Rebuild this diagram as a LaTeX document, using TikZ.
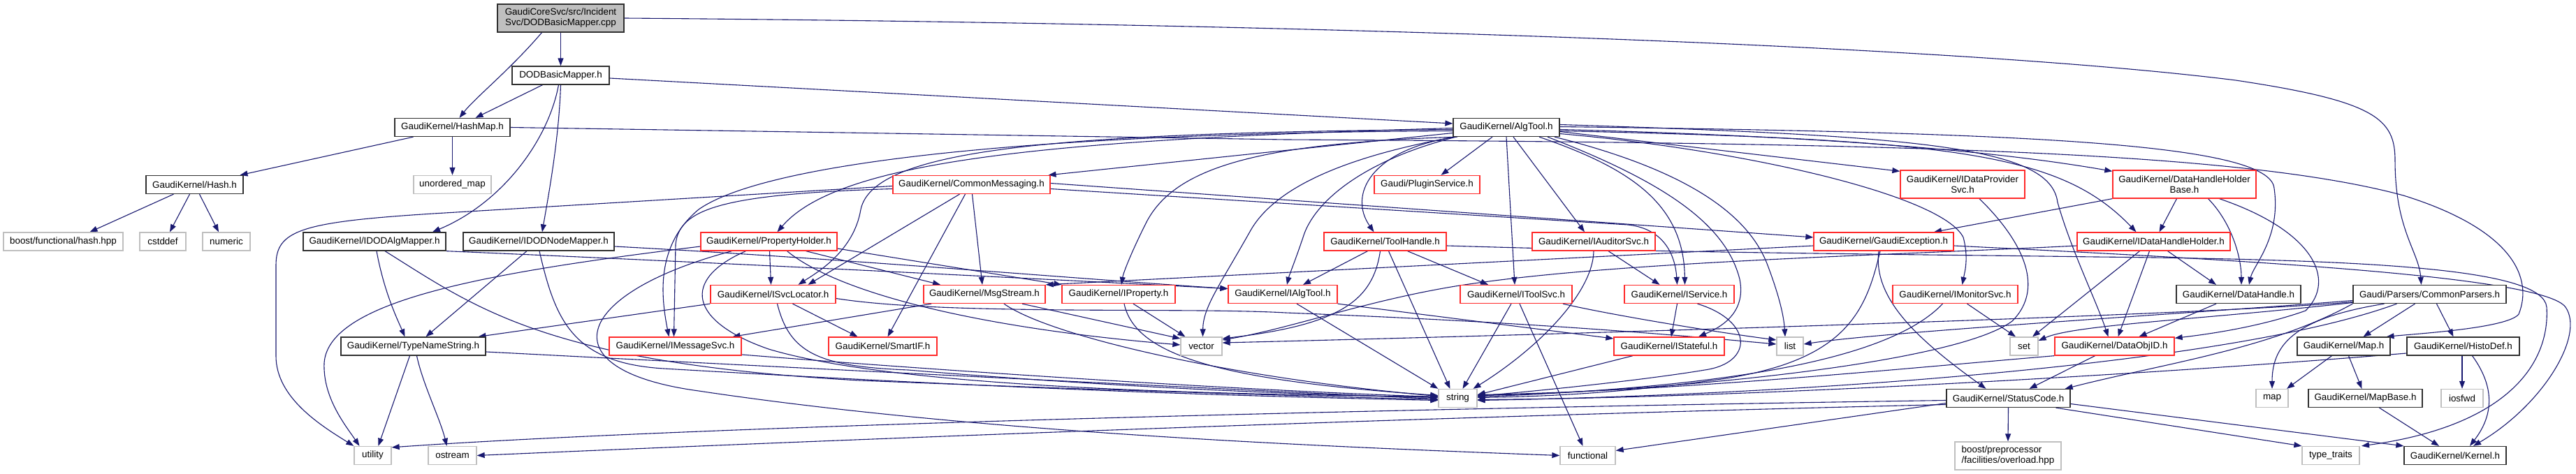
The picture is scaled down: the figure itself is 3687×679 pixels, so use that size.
\documentclass[tikz,border=0pt]{standalone}
\usepackage{fontspec}
\setmainfont{Liberation Sans}
\usetikzlibrary{arrows.meta}
\definecolor{edgec}{HTML}{191970}
\definecolor{redb}{HTML}{FF2A2A}
\definecolor{grayb}{HTML}{BFBFBF}
\definecolor{blkb}{HTML}{303030}
\newcommand\dxf{\fontsize{13.4}{15}\selectfont}
\pgfdeclarelayer{edges}
\pgfsetlayers{edges,main}
\tikzset{
  nb/.style={draw, line width=1.3pt, fill=white, inner sep=0pt, font=\dxf, text=black, minimum height=26pt},
  blk/.style={nb, draw=blkb},
  rd/.style={nb, draw=redb},
  gr/.style={nb, draw=grayb},
  e/.style={draw=edgec, line width=1.1pt, -{Triangle[length=11pt,width=8pt]}},
}
\begin{document}
\begin{tikzpicture}[x=1pt,y=-1pt]
\useasboundingbox (0,0) rectangle (3687,679);
% row 0-1
\node[blk, fill=grayb, minimum width=181pt, minimum height=40pt, align=center] (cpp) at (802.5,26) {GaudiCoreSvc/src/Incident\\Svc/DODBasicMapper.cpp};
\node[blk, minimum width=139pt] (dbm) at (802.5,108) {DODBasicMapper.h};
% row 2
\node[blk, minimum width=165pt] (hashmap) at (647.5,182.5) {GaudiKernel/HashMap.h};
\node[blk, minimum width=152pt] (algtool) at (2156,182.5) {GaudiKernel/AlgTool.h};
% row 3
\node[blk, minimum width=139pt] (hash) at (278.5,264.5) {GaudiKernel/Hash.h};
\node[gr, minimum width=111pt] (umap) at (647.5,264.5) {unordered\_map};
\node[rd, minimum width=225pt] (cmsg) at (1390.5,264.5) {GaudiKernel/CommonMessaging.h};
\node[rd, minimum width=151pt] (plugin) at (2042.5,264.5) {Gaudi/PluginService.h};
\node[rd, minimum width=178pt, minimum height=40pt, align=center] (idps) at (2809,264) {GaudiKernel/IDataProvider\\Svc.h};
\node[rd, minimum width=205pt, minimum height=40pt, align=center] (dhhb) at (3126.5,264) {GaudiKernel/DataHandleHolder\\Base.h};
% row 4
\node[gr, minimum width=171pt] (bfh) at (90.5,346) {boost/functional/hash.hpp};
\node[gr, minimum width=66pt] (cstddef) at (233,346) {cstddef};
\node[gr, minimum width=68pt] (numeric) at (324,346) {numeric};
\node[blk, minimum width=204pt] (idodalg) at (536,346) {GaudiKernel/IDODAlgMapper.h};
\node[blk, minimum width=216pt] (idodnode) at (771,346) {GaudiKernel/IDODNodeMapper.h};
\node[rd, minimum width=195pt] (propholder) at (1100.5,346) {GaudiKernel/PropertyHolder.h};
\node[rd, minimum width=175pt] (toolhandle) at (1982.5,346) {GaudiKernel/ToolHandle.h};
\node[rd, minimum width=176pt] (iauditor) at (2281,346) {GaudiKernel/IAuditorSvc.h};
\node[rd, minimum width=200pt] (gexc) at (2696,346) {GaudiKernel/GaudiException.h};
\node[rd, minimum width=219pt] (idhh) at (3082.5,346) {GaudiKernel/IDataHandleHolder.h};
% row 5
\node[rd, minimum width=179pt] (isvcloc) at (1106.5,421.5) {GaudiKernel/ISvcLocator.h};
\node[rd, minimum width=174pt] (msgstream) at (1409,421.5) {GaudiKernel/MsgStream.h};
\node[rd, minimum width=162pt] (iprop) at (1601,421.5) {GaudiKernel/IProperty.h};
\node[rd, minimum width=156pt] (ialgtool) at (1836,421.5) {GaudiKernel/IAlgTool.h};
\node[rd, minimum width=160pt] (itoolsvc) at (2170,421.5) {GaudiKernel/IToolSvc.h};
\node[rd, minimum width=157pt] (iservice) at (2403.5,421.5) {GaudiKernel/IService.h};
\node[rd, minimum width=179pt] (imonitor) at (2798.5,421.5) {GaudiKernel/IMonitorSvc.h};
\node[blk, minimum width=178pt] (datahandle) at (3204,421.5) {GaudiKernel/DataHandle.h};
\node[blk, minimum width=219pt] (cparsers) at (3477.5,421.5) {Gaudi/Parsers/CommonParsers.h};
% row 6
\node[blk, minimum width=207pt] (typename) at (591.5,496) {GaudiKernel/TypeNameString.h};
\node[rd, minimum width=189pt] (imsgsvc) at (966.5,496) {GaudiKernel/IMessageSvc.h};
\node[rd, minimum width=155pt] (smartif) at (1263.5,496) {GaudiKernel/SmartIF.h};
\node[gr, minimum width=59pt] (vector) at (1719.5,496) {vector};
\node[rd, minimum width=158pt] (istateful) at (2389,496) {GaudiKernel/IStateful.h};
\node[gr, minimum width=38pt] (list) at (2562,496) {list};
\node[gr, minimum width=40pt] (set) at (2897,496) {set};
\node[rd, minimum width=171pt] (dataobjid) at (3026.5,496) {GaudiKernel/DataObjID.h};
\node[blk, minimum width=133pt] (maph) at (3354.5,496) {GaudiKernel/Map.h};
\node[blk, minimum width=161pt] (histodef) at (3525.5,496) {GaudiKernel/HistoDef.h};
% row 7
\node[gr, minimum width=55pt] (string) at (2086.5,570.5) {string};
\node[blk, minimum width=177pt] (statuscode) at (2874.5,570.5) {GaudiKernel/StatusCode.h};
\node[gr, minimum width=46pt] (map) at (3252,570.5) {map};
\node[blk, minimum width=163pt] (mapbase) at (3385.5,570.5) {GaudiKernel/MapBase.h};
\node[gr, minimum width=60pt] (iosfwd) at (3524,570.5) {iosfwd};
% row 8
\node[gr, minimum width=53pt] (utility) at (533.5,652.5) {utility};
\node[gr, minimum width=69pt] (ostream) at (647.5,652.5) {ostream};
\node[gr, minimum width=79pt] (functional) at (2272.5,652.5) {functional};
\node[gr, minimum width=152pt, minimum height=40pt, align=left] (bpo) at (2874,653) {boost/preprocessor\\/facilities/overload.hpp};
\node[gr, minimum width=82pt] (typetraits) at (3336,652.5) {type\_traits};
\node[blk, minimum width=146pt] (kernel) at (3514,652.5) {GaudiKernel/Kernel.h};

\begin{pgfonlayer}{edges}
\fill[white] (0,0) rectangle (3687,679);
% cpp
\draw[e] ([xshift=-27pt]cpp.south) .. controls (730,100) and (680,140) .. ([xshift=10pt]hashmap.north);
\draw[e] (cpp.south) -- (dbm.north);
\draw[e] (cpp.east) .. controls (1900,34) and (2800,65) .. (3200,115) .. controls (3400,145) and (3428,170) .. (3428,230) .. controls (3428,330) and (3462,360) .. ([xshift=-12pt]cparsers.north);
% dbm
\draw[e] ([xshift=-26pt]dbm.south) -- ([xshift=33pt]hashmap.north);
\draw[e] ([yshift=-4pt]dbm.east) -- ([yshift=5.5pt]algtool.west);
\draw[e] ([xshift=-3pt]dbm.south) .. controls (785,200) and (720,290) .. ([xshift=83pt]idodalg.north);
\draw[e] (dbm.south) .. controls (800,200) and (785,280) .. ([xshift=5pt]idodnode.north);
% hashmap, hash
\draw[e] ([xshift=-56pt]hashmap.south) -- ([xshift=65pt]hash.north);
\draw[e] (hashmap.south) -- (umap.north);
\draw[e] (hashmap.east) -- (1840,200) .. controls (2700,205) and (3200,215) .. (3440,280) .. controls (3600,330) and (3625,400) .. (3605,450) .. controls (3590,470) and (3460,478) .. ([xshift=61pt]maph.north);
\draw[e] ([xshift=-30pt]hash.south) -- ([xshift=38pt]bfh.north);
\draw[e] ([xshift=-7pt]hash.south) -- ([xshift=10pt]cstddef.north);
\draw[e] ([xshift=7pt]hash.south) -- ([xshift=-11pt]numeric.north);
% algtool
\draw[e] ([yshift=-8pt]algtool.west) -- ([xshift=110pt]cmsg.north);
\draw[e] ([xshift=-20pt]algtool.south) -- ([xshift=20pt]plugin.north);
\draw[e] ([yshift=-6pt]algtool.east) -- ([yshift=-2pt]idps.north west);
\draw[e] ([yshift=-3pt]algtool.east) .. controls (2600,195) and (2850,215) .. ([yshift=-2pt]dhhb.north west);
\draw[e] ([yshift=-1pt]algtool.west) .. controls (1500,200) and (1200,230) .. ([xshift=12pt]propholder.north);
\draw[e] ([xshift=-73pt]algtool.south) .. controls (1960,215) and (1930,280) .. ([xshift=-16pt]toolhandle.north);
\draw[e] ([xshift=10pt]algtool.south) -- ([xshift=-13pt]iauditor.north);
\draw[e] ([yshift=-3pt]algtool.west) .. controls (1500,190) and (1250,215) .. (1232,300) .. controls (1222,360) and (1170,390) .. ([xshift=36pt]isvcloc.north);
\draw[e] ([yshift=-5pt]algtool.west) .. controls (1500,190) and (1100,230) .. (1000,300) .. controls (940,350) and (945,420) .. ([xshift=-9pt]imsgsvc.north);
\draw[e] ([xshift=-70pt]algtool.south) .. controls (1800,205) and (1680,240) .. (1640,320) .. controls (1620,360) and (1608,390) .. ([xshift=4pt]iprop.north);
\draw[e] ([xshift=-72pt]algtool.south) .. controls (1950,230) and (1880,290) .. (1865,340) .. controls (1855,370) and (1845,395) .. ([xshift=6pt]ialgtool.north);
\draw[e] ([xshift=-74pt]algtool.south) .. controls (1950,220) and (1830,260) .. (1790,330) .. controls (1745,410) and (1722,440) .. ([xshift=2pt]vector.north);
\draw[e] (algtool.south) -- ([xshift=-2pt]itoolsvc.north);
\draw[e] ([xshift=47pt]algtool.south) .. controls (2330,240) and (2410,290) .. ([xshift=8pt]iservice.north);
\draw[e] ([yshift=-9pt]algtool.east) .. controls (2500,215) and (2780,280) .. (2810,340) .. controls (2818,370) and (2812,390) .. ([xshift=10pt]imonitor.north);
\draw[e] ([yshift=-5pt]algtool.east) .. controls (2800,200) and (2950,220) .. ([xshift=-25pt]idhh.north);
\draw[e] ([yshift=1pt]algtool.east) .. controls (2900,190) and (3250,205) .. (3255,270) .. controls (3265,340) and (3225,380) .. ([xshift=15pt]datahandle.north);
\draw[e] ([yshift=4pt]algtool.east) .. controls (2750,195) and (2935,210) .. (2945,290) .. controls (2965,360) and (3000,430) .. ([xshift=-9pt]dataobjid.north);
\draw[e] ([xshift=69pt]algtool.south) .. controls (2400,240) and (2500,300) .. (2530,380) .. controls (2545,420) and (2553,450) .. ([xshift=-7pt]list.north);
\draw[e] ([xshift=59pt]algtool.south) .. controls (2380,260) and (2470,320) .. (2490,400) .. controls (2500,450) and (2460,470) .. ([xshift=42pt]istateful.north);
% cmsg
\draw[e] ([yshift=-6pt]cmsg.east) -- (2330,322) .. controls (2385,328) and (2398,370) .. ([xshift=-3pt]iservice.north);
\draw[e] ([yshift=2pt]cmsg.east) -- ([yshift=6pt]gexc.west);
\draw[e] ([xshift=-17pt]cmsg.south) -- ([xshift=50pt]isvcloc.north);
\draw[e] ([xshift=-9pt]cmsg.south) -- ([xshift=7pt]smartif.north);
\draw[e] ([xshift=1pt]cmsg.south) -- ([xshift=-3pt]msgstream.north);
\draw[e] ([yshift=-6pt]cmsg.west) .. controls (1030,278) and (972,300) .. (967,350) -- ([xshift=-2pt]imsgsvc.north);
\draw[e] ([yshift=-2pt]cmsg.west) -- (620,306) .. controls (430,318) and (395,330) .. (395,380) -- (395,510) .. controls (395,570) and (460,610) .. (utility.north west);
% propholder
\draw[e] ([xshift=1pt]propholder.south) -- ([xshift=-3pt]isvcloc.north);
\draw[e] ([xshift=53pt]propholder.south) -- ([xshift=-63pt]msgstream.north);
\draw[e] ([yshift=-10pt]propholder.east) -- (iprop.north west);
\draw[e] ([yshift=-7pt]propholder.west) .. controls (700,390) and (470,430) .. (464,520) .. controls (462,570) and (495,610) .. ([xshift=-19pt]utility.north);
\draw[e] ([xshift=-53pt]propholder.south) .. controls (820,420) and (780,530) .. (1000,560) .. controls (1400,620) and (1900,640) .. (functional.west);
\draw[e] ([xshift=-33pt]propholder.south) .. controls (975,400) and (985,460) .. (1100,500) .. controls (1300,560) and (1800,565) .. ([yshift=2pt]string.west);
\draw[e] ([xshift=26pt]propholder.south) .. controls (1200,420) and (1400,470) .. ([yshift=2pt]vector.west);
% msgstream, iprop
\draw[e] ([xshift=54pt]msgstream.south) -- ([yshift=11pt]vector.west);
\draw[e] ([xshift=28pt]msgstream.south) .. controls (1500,480) and (1750,540) .. ([yshift=3pt]string.west);
\draw[e] ([xshift=-76pt]msgstream.south) -- ([xshift=82pt]imsgsvc.north);
\draw[e] ([xshift=21pt]iprop.south) -- ([xshift=-23pt]vector.north);
\draw[e] ([xshift=8pt]iprop.south) .. controls (1625,510) and (1750,545) .. ([yshift=4pt]string.west);
% isvcloc
\draw[e] (isvcloc.south west) -- ([xshift=93pt]typename.north);
\draw[e] ([xshift=28pt]isvcloc.south) -- ([xshift=-36pt]smartif.north);
\draw[e] ([xshift=6pt]isvcloc.south) .. controls (1130,505) and (1170,525) .. (1300,530) .. controls (1600,555) and (1850,565) .. ([yshift=1pt]string.west);
\draw[e] ([yshift=-6pt]isvcloc.east) .. controls (1350,452) and (1700,440) .. (1840,448) .. controls (2200,462) and (2400,480) .. ([yshift=3pt]list.west);
% itoolsvc, toolhandle
\draw[e] ([xshift=67pt]itoolsvc.south) .. controls (2300,450) and (2450,475) .. ([yshift=9pt]list.west);
\draw[e] ([xshift=-7pt]itoolsvc.south) -- ([xshift=7pt]string.north);
\draw[e] ([xshift=5pt]itoolsvc.south) -- ([xshift=-7pt]functional.north);
\draw[e] ([xshift=-25pt]toolhandle.south) -- ([xshift=29pt]ialgtool.north);
\draw[e] ([xshift=32pt]toolhandle.south) -- ([xshift=-40pt]itoolsvc.north);
\draw[e] ([xshift=5pt]toolhandle.south) -- ([xshift=-11pt]string.north);
\draw[e] ([xshift=-7pt]toolhandle.south) .. controls (1965,430) and (1920,465) .. ([yshift=11pt]vector.east);
\draw[e] ([yshift=-6pt]toolhandle.east) .. controls (2400,362) and (2700,364) .. (3000,368) .. controls (3400,372) and (3640,385) .. (3645,440) .. controls (3650,520) and (3590,610) .. ([xshift=44pt]typetraits.north);
% gexc
\draw[e] ([yshift=-6pt]gexc.east) .. controls (3200,372) and (3640,395) .. (3672,440) .. controls (3700,480) and (3640,580) .. ([xshift=26pt]kernel.north);
\draw[e] ([yshift=-6pt]gexc.west) -- (msgstream.north east);
\draw[e] ([xshift=-5pt]gexc.south) .. controls (2670,450) and (2640,520) .. (2450,545) .. controls (2300,565) and (2200,568) .. ([yshift=1pt]string.east);
\draw[e] ([xshift=-7pt]gexc.south) .. controls (2680,430) and (2750,490) .. ([xshift=-32pt]statuscode.north);
% imonitor, iauditor, iservice, ialgtool, istateful
\draw[e] ([xshift=17pt]imonitor.south) -- ([xshift=-12pt]set.north);
\draw[e] ([xshift=-18pt]imonitor.south) .. controls (2700,520) and (2450,555) .. ([yshift=2pt]string.east);
\draw[e] ([xshift=21pt]iauditor.south) -- ([xshift=-28pt]iservice.north);
\draw[e] (iauditor.south) .. controls (2280,420) and (2200,500) .. ([xshift=22pt]string.north);
\draw[e] ([xshift=-3pt]iservice.south) -- ([xshift=3pt]istateful.north);
\draw[e] ([xshift=26pt]iservice.south) .. controls (2510,460) and (2510,520) .. (2440,530) .. controls (2350,545) and (2200,560) .. ([yshift=3pt]string.east);
\draw[e] ([xshift=20pt]ialgtool.south) -- (string.north west);
\draw[e] (ialgtool.south east) -- ([yshift=11pt]istateful.west);
\draw[e] ([xshift=-52pt]istateful.south) -- ([yshift=5pt]string.east);
% idps, dhhb, idhh, datahandle
\draw[e] ([xshift=24pt]idps.south) .. controls (2890,340) and (2930,410) .. (2880,460) .. controls (2800,520) and (2400,560) .. ([yshift=4pt]string.east);
\draw[e] ([xshift=34pt]dhhb.south) .. controls (3195,320) and (3208,370) .. ([xshift=4pt]datahandle.north);
\draw[e] ([xshift=-11pt]dhhb.south) -- ([xshift=8pt]idhh.north);
\draw[e] (dhhb.south west) -- ([xshift=72pt]gexc.north);
\draw[e] ([xshift=50pt]dhhb.south) .. controls (3310,330) and (3345,400) .. (3300,445) .. controls (3230,470) and (3150,480) .. ([yshift=-2pt]dataobjid.north east);
\draw[e] ([xshift=20pt]idhh.south) -- ([xshift=-32pt]datahandle.north);
\draw[e] ([xshift=-6pt]idhh.south) -- ([xshift=5pt]dataobjid.north);
\draw[e] ([xshift=-20pt]idhh.south) -- ([xshift=12pt]set.north);
\draw[e] ([yshift=-6pt]idhh.west) .. controls (2700,366) and (2300,375) .. (2083,410) .. controls (1950,432) and (1850,470) .. ([yshift=9pt]vector.east);
\draw[e] ([xshift=-32pt]datahandle.south) -- ([xshift=35pt]dataobjid.north);
\draw[e] (dataobjid.south west) .. controls (2700,530) and (2400,560) .. ([yshift=5pt]string.east);
\draw[e] ([xshift=-28pt]dataobjid.south) -- ([xshift=30pt]statuscode.north);
% cparsers
\draw[e] (cparsers.south west) .. controls (3250,500) and (3100,520) .. ([xshift=-8pt]statuscode.north east);
\draw[e] ([xshift=-47pt]cparsers.south) .. controls (3200,520) and (2600,565) .. ([yshift=-3pt]string.east);
\draw[e] ([yshift=-11pt]cparsers.west) .. controls (3150,452) and (2200,480) .. ([yshift=5pt]vector.east);
\draw[e] ([yshift=-9pt]cparsers.west) .. controls (3150,448) and (2700,475) .. ([yshift=3pt]list.east);
\draw[e] ([yshift=-12pt]cparsers.west) .. controls (3150,458) and (2970,465) .. ([yshift=8pt]set.east);
\draw[e] ([xshift=-65pt]cparsers.south) .. controls (3290,455) and (3252,490) .. (map.north);
\draw[e] ([xshift=-21pt]cparsers.south) -- ([xshift=28pt]maph.north);
\draw[e] ([xshift=10pt]cparsers.south) -- ([xshift=-14pt]histodef.north);
% histodef, maph, mapbase
\draw[e] ([xshift=-1.5pt]histodef.south) -- (iosfwd.north);
\draw[e] ([xshift=13pt]histodef.south) .. controls (3575,560) and (3565,600) .. ([xshift=21pt]kernel.north);
\draw[e] ([yshift=-10pt]histodef.west) .. controls (3100,535) and (2500,570) .. ([yshift=-2pt]string.east);
\draw[e] ([xshift=-17pt]maph.south) -- ([xshift=21pt]map.north);
\draw[e] ([xshift=7pt]maph.south) -- ([xshift=-5pt]mapbase.north);
\draw[e] ([xshift=20pt]mapbase.south) -- ([xshift=-23pt]kernel.north);
% statuscode
\draw[e] ([yshift=-8pt]statuscode.east) -- (kernel.north west);
\draw[e] ([xshift=68pt]statuscode.south) -- (typetraits.north west);
\draw[e] (statuscode.south) -- (bpo.north);
\draw[e] ([yshift=-7pt]statuscode.west) -- ([yshift=7pt]functional.east);
\draw[e] ([yshift=-3pt]statuscode.west) .. controls (2000,585) and (1000,610) .. ([yshift=-2pt]utility.north east);
\draw[e] ([yshift=-9pt]statuscode.west) .. controls (2000,598) and (1200,630) .. (ostream.east);
% typename, imsgsvc
\draw[e] ([xshift=-5pt]typename.south) -- ([xshift=8pt]utility.north);
\draw[e] ([xshift=5pt]typename.south) .. controls (605,550) and (630,600) .. ([xshift=-8pt]ostream.north);
\draw[e] ([yshift=-8pt]typename.east) .. controls (1200,530) and (1700,555) .. ([yshift=-1pt]string.west);
\draw[e] ([yshift=-12pt]imsgsvc.east) .. controls (1400,535) and (1800,560) .. ([yshift=2pt]string.west);
% idodalg, idodnode
\draw[e] ([xshift=3pt]idodalg.south) .. controls (550,420) and (570,460) .. ([xshift=-12pt]typename.north);
\draw[e] ([xshift=15pt]idodalg.south) .. controls (680,440) and (780,520) .. (1230,545) .. controls (1600,560) and (1900,568) .. ([yshift=-2pt]string.west);
\draw[e] (idodalg.south east) .. controls (1000,375) and (1500,400) .. ([yshift=8pt]ialgtool.west);
\draw[e] ([xshift=-17pt]idodnode.south) -- ([xshift=18pt]typename.north);
\draw[e] ([xshift=1pt]idodnode.south) .. controls (795,460) and (820,520) .. (950,528) .. controls (1500,560) and (1800,568) .. ([yshift=-3pt]string.west);
\draw[e] ([yshift=-7pt]idodnode.east) .. controls (1200,370) and (1550,400) .. ([yshift=8pt]ialgtool.west);
\end{pgfonlayer}
\end{tikzpicture}
\end{document}
